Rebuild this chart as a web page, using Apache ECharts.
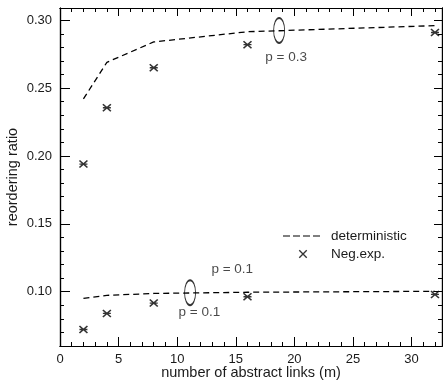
<!DOCTYPE html>
<html>
<head>
<meta charset="utf-8">
<script src="https://cdn.jsdelivr.net/npm/echarts@6/dist/echarts.min.js"></script>
<style>html,body{margin:0;padding:0;background:#fff}#c{width:443px;height:383px}</style>
</head>
<body>
<div id="c"></div>
<script>
const xValues = [2, 4, 8, 16, 32];
const detP03 = [0.242, 0.269, 0.284, 0.2915, 0.296];
const negP03 = [0.194, 0.2355, 0.265, 0.282, 0.291];
const detP01 = [0.0951, 0.0973, 0.0987, 0.0996, 0.1003];
const negP01 = [0.0722, 0.084, 0.0916, 0.0963, 0.098];
const xMajorTicks = [0, 5, 10, 15, 20, 25, 30];
const xMinorTicks = [0,1,2,3,4,5,6,7,8,9,10,11,12,13,14,15,16,17,18,19,20,21,22,23,24,25,26,27,28,29,30,31,32];
const yMajorTicks = [0.10, 0.15, 0.20, 0.25, 0.30];
const yMinorTicks = [0.07,0.08,0.09,0.10,0.11,0.12,0.13,0.14,0.15,0.16,0.17,0.18,0.19,0.20,0.21,0.22,0.23,0.24,0.25,0.26,0.27,0.28,0.29,0.30];
const ellipseX = [18.7, 11.1];
const ellipseY = [0.2925, 0.0993];
const annText = ['p = 0.3', 'p = 0.1', 'p = 0.1'];
const annX = [19.3, 11.9, 14.7];
const annY = [0.2725, 0.0848, 0.1164];

const FONT = "'Liberation Sans', Arial, Helvetica, sans-serif";
const TXT = '#1a1a1a';
const X_MIN = 0, X_MAX = 32.6, Y_MIN = 0.06, Y_MAX = 0.309;
const asterisk = 'path://M0,0L10,10M10,0L0,10M0,5L10,5';
const cross = 'path://M-3,-3M13,13M0,0L10,10M10,0L0,10';
const dashIcon = 'path://M0,5.4h7v1.2h-7zM10,5.4h7v1.2h-7zM20,5.4h7v1.2h-7zM30,5.4h7v1.2h-7zM0,0M40,12';

function zip(xs, ys) { return xs.map((x, i) => [x, ys[i]]); }

function xAx(pos, custom, len, opts) {
  return Object.assign({
    type: 'value', position: pos, min: X_MIN, max: X_MAX,
    axisLine: { show: true, onZero: false, lineStyle: { color: '#000', width: 1.2 } },
    axisTick: { show: true, inside: true, length: len, customValues: custom, lineStyle: { color: '#000', width: 1 } },
    axisLabel: { show: false },
    splitLine: { show: false }
  }, opts || {});
}
function yAx(pos, custom, len, opts) {
  return Object.assign({
    type: 'value', position: pos, min: Y_MIN, max: Y_MAX,
    axisLine: { show: true, onZero: false, lineStyle: { color: '#000', width: 1.2 } },
    axisTick: { show: true, inside: true, length: len, customValues: custom, lineStyle: { color: '#000', width: 1 } },
    axisLabel: { show: false },
    splitLine: { show: false }
  }, opts || {});
}

const chart = echarts.init(document.getElementById('c'), null, { renderer: 'canvas' });
chart.setOption({
  animation: false,
  backgroundColor: '#fff',
  textStyle: { fontFamily: FONT },
  grid: { left: 60, right: 1, top: 8, bottom: 37, containLabel: false, outerBoundsMode: 'none' },
  xAxis: [
    xAx('bottom', xMajorTicks, 9, {
      axisLabel: { show: true, customValues: xMajorTicks, margin: 7, color: TXT, fontSize: 13, fontFamily: FONT },
      name: 'number of abstract links (m)', nameLocation: 'middle', nameGap: 19, nameMoveOverlap: false,
      nameTextStyle: { color: TXT, fontSize: 14.5, fontFamily: FONT }
    }),
    xAx('bottom', xMinorTicks, 4),
    xAx('top', xMajorTicks, 8),
    xAx('top', xMinorTicks, 4)
  ],
  yAxis: [
    yAx('left', yMajorTicks, 10, {
      axisLabel: { show: true, customValues: yMajorTicks, margin: 8, color: TXT, fontSize: 13, fontFamily: FONT,
        formatter: v => v.toFixed(2) },
      name: 'reordering ratio', nameLocation: 'middle', nameGap: 40, nameRotate: 90, nameMoveOverlap: false,
      nameTextStyle: { color: TXT, fontSize: 14.5, fontFamily: FONT }
    }),
    yAx('left', yMinorTicks, 4),
    yAx('right', yMajorTicks, 8),
    yAx('right', yMinorTicks, 4)
  ],
  legend: {
    orient: 'vertical', left: 283, top: 229, padding: 0, itemWidth: 40, itemHeight: 12, itemGap: 4,
    textStyle: { color: TXT, fontSize: 13.5, fontFamily: FONT, padding: [0, 0, 0, 3] },
    data: [
      { name: 'deterministic', icon: dashIcon, itemStyle: { color: '#000', borderWidth: 0 } },
      { name: 'Neg.exp.', icon: cross, itemStyle: { color: 'rgba(0,0,0,0)', borderColor: '#000', borderWidth: 1.4 } }
    ]
  },
  series: [
    { name: 'deterministic', type: 'line', data: zip(xValues, detP03), symbol: 'none',
      lineStyle: { color: '#000', width: 1.3, type: [6, 4] }, itemStyle: { color: '#000' } },
    { name: 'deterministic', type: 'line', data: zip(xValues, detP01), symbol: 'none',
      lineStyle: { color: '#000', width: 1.3, type: [6, 4] }, itemStyle: { color: '#000' } },
    { name: 'Neg.exp.', type: 'scatter', data: zip(xValues, negP03), symbol: asterisk, symbolSize: [8, 7],
      itemStyle: { color: 'rgba(0,0,0,0)', borderColor: '#000', borderWidth: 1.5 } },
    { name: 'Neg.exp.', type: 'scatter', data: zip(xValues, negP01), symbol: asterisk, symbolSize: [8, 7],
      itemStyle: { color: 'rgba(0,0,0,0)', borderColor: '#000', borderWidth: 1.5 } },
    { name: 'ellipse', type: 'scatter', data: zip(ellipseX, ellipseY), symbol: 'circle', symbolSize: [11, 25],
      itemStyle: { color: 'rgba(0,0,0,0)', borderColor: '#000', borderWidth: 1.3 }, z: 3 },
    { name: 'annot', type: 'scatter', symbol: 'circle', symbolSize: 1,
      data: annText.map((t, i) => ({ name: t, value: [annX[i], annY[i]] })),
      itemStyle: { color: 'rgba(0,0,0,0)' },
      label: { show: true, position: 'inside', formatter: p => p.name, color: TXT, fontSize: 13.5, fontFamily: FONT } }
  ]
});
</script>
</body>
</html>
